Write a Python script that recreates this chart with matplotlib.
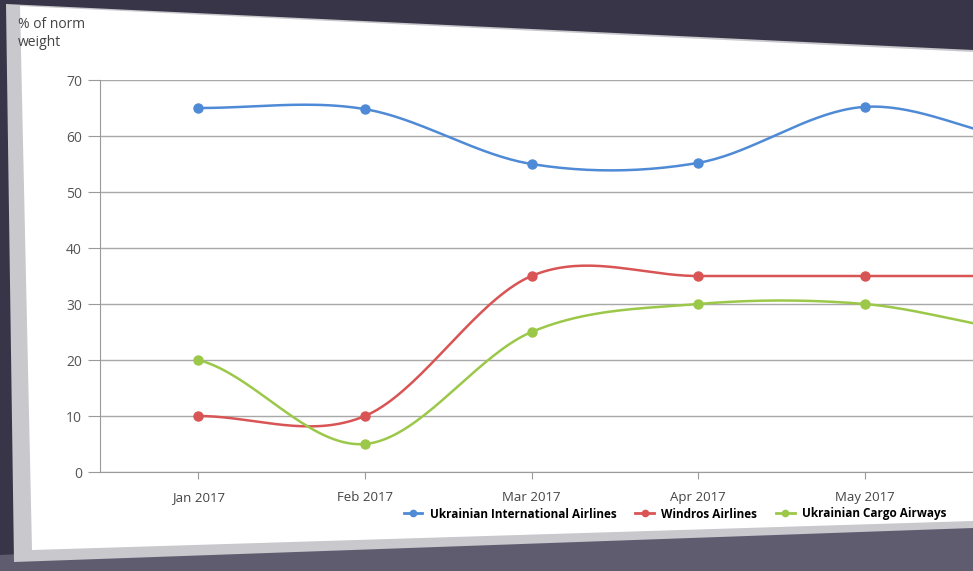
import numpy as np
import matplotlib
matplotlib.use("Agg")
import matplotlib.pyplot as plt
from matplotlib.patches import Polygon
from matplotlib.lines import Line2D

plt.rcParams['font.family'] = ['Open Sans', 'DejaVu Sans']

months = ['Jan 2017', 'Feb 2017', 'Mar 2017', 'Apr 2017', 'May 2017', 'Jun 2017']
uia = [65.0, 64.8, 55.0, 55.2, 65.2, 59.0]
windros = [10.0, 10.0, 35.0, 35.0, 35.0, 35.0]
cargo = [20.0, 5.0, 25.0, 30.0, 30.0, 25.0]

series_names = ['Ukrainian International Airlines', 'Windros Airlines', 'Ukrainian Cargo Airways']
series_colors = ['#4f8ad6', '#d95454', '#9cc84a']

W, H = 973, 571


def px(x, y):
    # pixel (from top-left) -> figure fraction
    return (x / W, 1 - y / H)


def smooth(values, n=40):
    # Catmull-Rom style smoothing, like the "smoothed line" of the original chart
    p = np.asarray(values, dtype=float)
    k = len(p)
    m = np.zeros(k)
    for i in range(k):
        lo, hi = max(i - 1, 0), min(i + 1, k - 1)
        m[i] = (p[hi] - p[lo]) / 2
    xs, ys = [], []
    t = np.linspace(0, 1, n)
    h00 = 2 * t**3 - 3 * t**2 + 1
    h10 = t**3 - 2 * t**2 + t
    h01 = -2 * t**3 + 3 * t**2
    h11 = t**3 - t**2
    for i in range(k - 1):
        xs.append(i + t)
        ys.append(h00 * p[i] + h10 * m[i] + h01 * p[i + 1] + h11 * m[i + 1])
    return np.concatenate(xs), np.concatenate(ys)


fig = plt.figure(figsize=(W / 100, H / 100), dpi=100)
fig.patch.set_facecolor('#393548')

# lighter floor under the card
floor = Polygon([px(0, 555), px(973, 510), px(973, 571), px(0, 571)], closed=True,
                transform=fig.transFigure, facecolor='#5f5c70', edgecolor='none', zorder=-3)
fig.patches.append(floor)

# tilted white card + bevel
bevel = Polygon([px(6, 4), px(973, 50), px(973, 528), px(14, 562)], closed=True,
                transform=fig.transFigure, facecolor='#c8c8cd', edgecolor='none', zorder=-2)
fig.patches.append(bevel)
card = Polygon([px(20, 6), px(973, 52), px(973, 521), px(32, 550)], closed=True,
               transform=fig.transFigure, facecolor='white', edgecolor='none', zorder=-1)
fig.patches.append(card)

ax = fig.add_axes([100 / W, (H - 472) / H, 1 - 100 / W, (472 - 80) / H])
ax.set_facecolor('none')
ax.set_zorder(2)

x = np.arange(len(months))
for vals, name, col in zip([uia, windros, cargo], series_names, series_colors):
    sx, sy = smooth(vals)
    ax.plot(sx, sy, color=col, lw=1.8, zorder=3)
    ax.plot(x, vals, 'o', color=col, ms=6.5, zorder=4)

ax.set_xlim(-0.59, 4.65)
ax.set_ylim(0, 70)
ax.set_yticks(range(0, 71, 10))
ax.set_xticks(x[:5])
ax.set_xticklabels(months[:5])
ax.yaxis.grid(True, color='#a8a8a8', lw=1)
ax.set_axisbelow(True)
for s in ['top', 'right']:
    ax.spines[s].set_visible(False)
for s in ['left', 'bottom']:
    ax.spines[s].set_color('#9a9a9a')
ax.tick_params(axis='y', length=9, color='#9a9a9a', labelsize=10, labelcolor='#555555', pad=4)
ax.tick_params(axis='x', length=5, color='#9a9a9a', labelsize=9.5, labelcolor='#444444', pad=9)

fig.text(18 / W, 1 - 17 / H, '% of norm\nweight', ha='left', va='top', fontsize=10,
         color='#444444', linespacing=1.3)

handles = [Line2D([0], [0], color=c, lw=2, marker='o', ms=4.5) for c in series_colors]
leg = fig.legend(handles, series_names, loc='center', bbox_to_anchor=px(675, 514), ncol=3,
                 frameon=False, handlelength=1.6, handletextpad=0.6, columnspacing=1.6,
                 prop={'weight': 'bold', 'size': 8.5})

fig.savefig('out.png', dpi=100, facecolor=fig.get_facecolor())
